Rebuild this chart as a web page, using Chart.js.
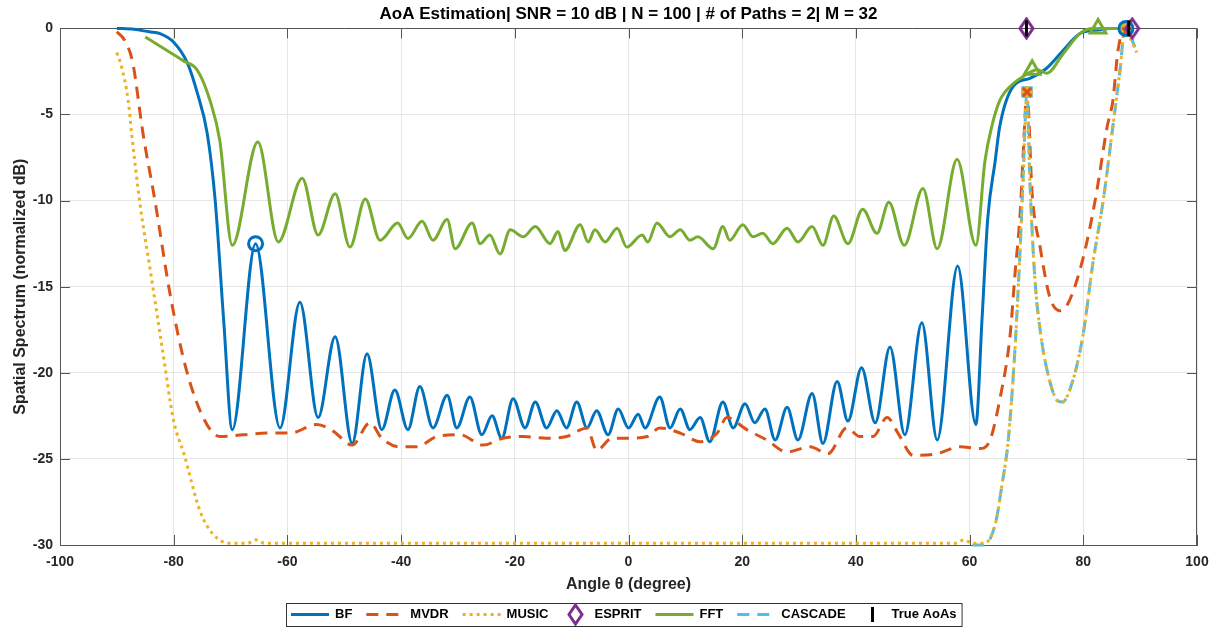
<!DOCTYPE html>
<html>
<head>
<meta charset="utf-8">
<title>AoA Estimation</title>
<script src="https://cdn.jsdelivr.net/npm/chart.js@4.4.1/dist/chart.umd.min.js"></script>
<style>
  html, body { margin: 0; padding: 0; background: #fff; }
  #wrap { width: 1218px; height: 628px; }
</style>
</head>
<body>
<div id="wrap"><canvas id="aoa-spectrum" width="1218" height="628"></canvas></div>
<script>

// angle (deg) / normalized spatial spectrum (dB) for each estimator
var bfAngle = [-90, -87, -84.3, -82.4, -80, -77.6, -75.8, -74.1, -72.7, -71.2, -69.7, -65.6, -61.3, -57.8, -54.6, -51.6, -48.6, -46, -43.4, -41.1,
	-38.8, -36.7, -34.4, -31.9, -30.2, -27.9, -25.8, -24, -22.3, -20.3, -18.2, -16.4, -14.4, -12.6, -10.9, -9.1, -7.3, -5.6, -3.6, -1.8,
	0, 1.7, 2.9, 5.5, 7.3, 9.1, 10.8, 12.6, 14.3, 16.6, 18.4, 20.5, 22.2, 24, 25.8, 27.9, 29.8, 32.3, 34.2, 36.7,
	38.6, 41, 43.4, 46, 48.6, 51.6, 54.3, 57.9, 61.1, 62.2, 63.2, 64.5, 65.3, 67.6, 70.6, 73.6, 76.4, 79.4, 82.4, 85, 87.5];
var bfDb = [0, -0.05, -0.2, -0.3, -0.8, -2.0, -3.8, -6.1, -10, -17, -23.3, -12.5, -23.2, -15.9, -22.6, -17.9, -24.1, -18.9, -23.3, -21.0,
	-23.3, -20.8, -23.2, -21.3, -23.2, -21.4, -23.6, -22.5, -23.8, -21.5, -23.2, -21.7, -23.2, -22.2, -23.2, -21.7, -23.2, -22.2, -23.6, -22.1,
	-23.2, -22.4, -23.2, -21.4, -23.2, -22.1, -23.3, -22.6, -24.0, -21.7, -23.2, -21.8, -22.9, -22.1, -23.9, -22.0, -23.9, -21.2, -24.1, -20.5,
	-22.8, -19.7, -22.9, -18.5, -23.6, -17.1, -23.9, -13.8, -23.0, -16.8, -11.0, -7.7, -5.7, -3.4, -2.9, -2.3, -1.3, -0.3, -0.1, 0, 0];

var mvdrAngle = [-90, -88.6, -87.2, -85.4, -83.3, -80.6, -77.8, -74.5, -71.9, -67.8, -63.6, -59.5, -54.8, -51.9, -48.6, -45.5, -43.4, -40.2, -37.2, -33.7,
	-29.6, -25.6, -22.1, -18.5, -14.4, -10.9, -7.3, -5.6, -2.9, -0.3, 3.3, 5.5, 9.1, 12.6, 15.6, 17.3, 20.8, 24.3, 27.9, 31.9,
	35.1, 38.4, 40.7, 43.0, 45.5, 47.4, 50.1, 54.3, 58.3, 61.8, 63.6, 65.4, 67.1, 68.0, 68.9, 69.4, 70.1, 71.0, 72.4, 74.1,
	75.9, 77.1, 78.9, 80.7, 82.4, 84.2, 85.2, 86.1, 87.3, 88.2];
var mvdrDb = [-0.2, -0.7, -2.0, -6.1, -10.0, -15.5, -19.8, -22.8, -23.7, -23.6, -23.5, -23.5, -23.0, -23.4, -24.2, -22.9, -23.8, -24.3, -24.3, -23.7,
	-23.6, -24.2, -23.8, -23.7, -23.8, -23.7, -23.2, -24.5, -23.8, -23.8, -23.7, -23.2, -23.5, -24.0, -23.5, -22.6, -23.3, -23.9, -24.6, -24.3,
	-24.7, -23.2, -23.7, -23.7, -22.6, -23.5, -24.8, -24.7, -24.3, -24.4, -23.9, -21.4, -17.9, -14.2, -10.7, -7.5, -3.7, -9.6, -12.7, -15.6,
	-16.4, -16.1, -14.6, -12.3, -9.4, -5.7, -4.2, -1.3, 0, -0.3];

var musicAngle = [-90, -89.2, -88, -87.4, -86, -84, -82, -80, -78.2, -75.4, -73, -70, -67, -65.6, -64, -55, -40, -20, 0, 20,
	40, 55, 57.5, 59, 60.5, 62.5, 64.5, 65.7, 66.8, 68, 68.9, 69.4, 70.1, 70.6, 71.5, 72.4, 73.6, 75.4, 76.3, 78.2,
	80, 81.7, 83.5, 85.2, 86.5, 87.3, 88.3, 89.4];
var musicDb = [-1.4, -2.2, -4.2, -6.1, -10, -14.3, -18.6, -22.8, -24.7, -28, -29.4, -29.9, -29.9, -29.7, -29.9, -29.9, -29.9, -29.9, -29.9, -29.9,
	-29.9, -29.9, -29.9, -29.7, -29.9, -29.9, -28.8, -26.5, -23.9, -18.5, -12.7, -8.8, -3.7, -8.8, -14.6, -17.5, -19.8, -21.6, -21.7, -20.4,
	-17.7, -13.6, -10, -5.7, -2.3, 0, -0.6, -1.4];

var fftAngle = [-85, -78.2, -75.9, -73.6, -71.9, -69.7, -65.2, -61.6, -57.4, -54.6, -51.6, -49, -46.3, -43.7, -40.6, -38.8, -36.3, -34.4, -31.9, -30.5,
	-27.5, -26.1, -24.4, -22.6, -20.8, -18.5, -16.4, -13.8, -12.4, -11.2, -8.5, -7.1, -5.9, -4.1, -2, -0.3, 2.4, 3.4, 5, 7.3,
	9.1, 10.8, 12.2, 14.9, 16.6, 17.8, 20.1, 21.9, 23.6, 25.4, 27.9, 29.8, 32.3, 34.2, 36.1, 38.6, 41.2, 43.7, 45.8, 48.5,
	51.8, 54.3, 57.8, 61.1, 62.7, 63.9, 65.3, 67.7, 69.4, 71.9, 73.6, 76.4, 79.4, 81.7, 84.5, 88];
var fftDb = [-0.5, -1.9, -2.4, -4.2, -6.5, -12.6, -6.6, -12.4, -8.7, -12.0, -9.6, -12.7, -9.9, -12.3, -11.3, -12.2, -11.2, -12.3, -11.1, -12.8,
	-11.3, -12.5, -12.0, -13.1, -11.7, -12.1, -11.5, -12.5, -11.8, -12.9, -11.4, -12.4, -11.7, -12.4, -11.6, -12.7, -12.0, -12.4, -11.3, -12.1,
	-11.7, -12.3, -12.1, -12.8, -11.5, -12.3, -11.4, -12.1, -11.9, -12.5, -11.6, -12.4, -11.5, -12.6, -10.9, -12.5, -10.5, -11.9, -10.1, -12.6,
	-9.3, -12.8, -7.6, -12.6, -7.7, -5.7, -4.2, -3.2, -2.8, -2.4, -2.6, -1.5, -0.3, 0, 0, 0];

var cascadeAngle = [60.5, 62.5, 64.5, 65.7, 66.8, 68, 68.9, 69.4, 70.1, 70.6, 71.5, 72.4, 73.6, 75.4, 76.3, 78.2, 80, 81.7, 83.5, 85.2,
	86.5, 87.3, 88.2, 89.1];
var cascadeDb = [-30, -30, -28.8, -26.5, -23.9, -18.5, -12.7, -8.8, -3.7, -8.8, -14.6, -17.5, -19.8, -21.6, -21.7, -20.4, -17.7, -13.6, -10, -5.7,
	-2.3, 0, -0.4, -1.1];

// estimated / true AoAs
var espritAngle = [70, 88.6];
var espritDb = [0, 0];
var trueAngle = [70, 88];
var trueDb = [0, 0];

// detected peaks drawn as markers
var bfPeakAngle = [-65.6, 87.5];
var bfPeakDb = [-12.5, 0];
var mvdrPeakAngle = [70.1, 87.6];
var mvdrPeakDb = [-3.7, -0.2];
var musicPeakAngle = [70.1, 87.3];
var musicPeakDb = [-3.7, 0];
var fftPeakAngle = [71, 82.6];
var fftPeakDb = [-2.4, 0];
var cascadePeakAngle = [70.1, 87.3];
var cascadePeakDb = [-3.7, 0];

var xTicks = [-100, -80, -60, -40, -20, 0, 20, 40, 60, 80, 100];
var yTicks = [-30, -25, -20, -15, -10, -5, 0];

/* matlab 기본 색상 */
var blue = '#0072BD';
var orange = '#D95319';
var yellow = '#EDB120';
var purple = '#7E2F8E';
var green = '#77AC30';
var cyan = '#4DBEEE';

var fontFamily = "'Liberation Sans', Arial, Helvetica, sans-serif";

function toPoints(xs, ys) {
	return xs.map(function(x, i) { return {x: x, y: ys[i]}; });
}

// ESPRIT marker: diamond a bit taller than wide
function diamondMarker(w, h, color) {
	var c = document.createElement('canvas');
	c.width = w + 4;
	c.height = h + 4;
	var g = c.getContext('2d');
	g.strokeStyle = color;
	g.lineWidth = 3;
	g.beginPath();
	g.moveTo(c.width / 2, 2);
	g.lineTo(c.width - 2, c.height / 2);
	g.lineTo(c.width / 2, c.height - 2);
	g.lineTo(2, c.height / 2);
	g.closePath();
	g.stroke();
	return c;
}

var diamond = diamondMarker(13, 19, purple);

// legend entries, in plot order
var legendSpec = [
	{text: 'BF', color: blue, dash: [], kind: 'line'},
	{text: 'MVDR', color: orange, dash: [12, 8], kind: 'line'},
	{text: 'MUSIC', color: yellow, dash: [3, 4], kind: 'line'},
	{text: 'ESPRIT', color: purple, dash: [], kind: 'diamond'},
	{text: 'FFT', color: green, dash: [], kind: 'line'},
	{text: 'CASCADE', color: cyan, dash: [12, 8], kind: 'line'},
	{text: 'True AoAs', color: '#000', dash: [], kind: 'bar'}
];

function lineSet(label, xs, ys, color, dash, order) {
	return {
		label: label,
		data: toPoints(xs, ys),
		borderColor: color,
		backgroundColor: color,
		borderWidth: 3,
		borderDash: dash,
		borderCapStyle: 'butt',
		cubicInterpolationMode: 'monotone',
		pointRadius: 0,
		fill: false,
		clip: 3,
		order: order
	};
}

function markerSet(label, xs, ys, style, color, radius, order) {
	return {
		label: label,
		data: toPoints(xs, ys),
		showLine: false,
		pointStyle: style,
		pointRadius: radius,
		pointBorderWidth: 3,
		pointBorderColor: color,
		pointBackgroundColor: 'rgba(255,255,255,0)',
		clip: false,
		order: order
	};
}

var trueSet = markerSet('True AoAs', trueAngle, trueDb, 'line', '#000', 8, 1);
trueSet.pointRotation = 90;

// axes box, inward ticks on all sides, title over the plot area, boxed legend
var axesBox = {
	id: 'axesBox',
	afterLayout: function(chart) {
		var a = chart.chartArea;
		chart.titleBlock.left = a.left;
		chart.titleBlock.right = a.right;
	},
	beforeDatasetsDraw: function(chart) {
		var ctx = chart.ctx;
		var a = chart.chartArea;
		var xs = chart.scales.x, ys = chart.scales.y;
		ctx.save();
		ctx.strokeStyle = '#555';
		ctx.lineWidth = 1;
		ctx.beginPath();
		ctx.moveTo(a.left, Math.round(a.top) + 0.5);
		ctx.lineTo(a.right, Math.round(a.top) + 0.5);
		ctx.moveTo(Math.round(a.right) - 0.5, a.top);
		ctx.lineTo(Math.round(a.right) - 0.5, a.bottom);
		xs.ticks.forEach(function(t) {
			var px = Math.round(xs.getPixelForValue(t.value)) + 0.5;
			ctx.moveTo(px, a.bottom);
			ctx.lineTo(px, a.bottom - 10);
			ctx.moveTo(px, a.top);
			ctx.lineTo(px, a.top + 10);
		});
		ys.ticks.forEach(function(t) {
			var py = Math.round(ys.getPixelForValue(t.value)) + 0.5;
			ctx.moveTo(a.left, py);
			ctx.lineTo(a.left + 10, py);
			ctx.moveTo(a.right, py);
			ctx.lineTo(a.right - 10, py);
		});
		ctx.stroke();
		ctx.restore();
	},
	afterDraw: function(chart) {
		var ctx = chart.ctx;
		var a = chart.chartArea;
		var lineW = 38, markW = 26, gap = 6, spacing = 14, pad = 5;
		var cy = 614.5;

		ctx.save();
		ctx.font = 'bold 13px ' + fontFamily;
		ctx.textBaseline = 'middle';
		var total = 0;
		var widths = legendSpec.map(function(s) {
			var w = (s.kind == 'line' ? lineW : markW) + gap + ctx.measureText(s.text).width;
			total += w;
			return w;
		});
		total += spacing * (legendSpec.length - 1);
		var x = Math.round((a.left + a.right) / 2 - 5 - total / 2);

		ctx.strokeStyle = '#333';
		ctx.lineWidth = 1;
		ctx.strokeRect(x - pad + 0.5, 603.5, total + 2 * pad, 23);

		legendSpec.forEach(function(s, i) {
			var sw = s.kind == 'line' ? lineW : markW;
			if (s.kind == 'line') {
				ctx.strokeStyle = s.color;
				ctx.lineWidth = 3;
				ctx.lineCap = 'butt';
				ctx.setLineDash(s.dash);
				ctx.beginPath();
				ctx.moveTo(x, cy);
				ctx.lineTo(x + sw, cy);
				ctx.stroke();
				ctx.setLineDash([]);
			} else if (s.kind == 'diamond') {
				ctx.drawImage(diamond, Math.round(x + sw / 2 - diamond.width / 2), Math.round(cy - diamond.height / 2));
			} else {
				ctx.fillStyle = s.color;
				ctx.fillRect(Math.round(x + sw / 2 - 1.5), cy - 7.5, 3, 15);
			}
			ctx.fillStyle = '#000';
			ctx.fillText(s.text, x + sw + gap, cy);
			x += widths[i] + spacing;
		});
		ctx.restore();
	}
};

Chart.defaults.font.family = fontFamily;
Chart.defaults.color = '#262626';

var spectrum = new Chart(document.getElementById('aoa-spectrum'), {
	type: 'line',
	data: {
		datasets: [
			lineSet('BF', bfAngle, bfDb, blue, [], 10),
			lineSet('MVDR', mvdrAngle, mvdrDb, orange, [12, 8], 9),
			lineSet('MUSIC', musicAngle, musicDb, yellow, [3, 4], 6),
			markerSet('ESPRIT', espritAngle, espritDb, diamond, purple, 8, 2),
			lineSet('FFT', fftAngle, fftDb, green, [], 8),
			lineSet('CASCADE', cascadeAngle, cascadeDb, cyan, [12, 8], 7),
			trueSet,
			markerSet('BF peaks', bfPeakAngle, bfPeakDb, 'circle', blue, 7, 3),
			markerSet('MVDR peaks', mvdrPeakAngle, mvdrPeakDb, 'crossRot', orange, 6, 3),
			markerSet('MUSIC peaks', musicPeakAngle, musicPeakDb, 'star', yellow, 6, 3),
			markerSet('FFT peaks', fftPeakAngle, fftPeakDb, 'triangle', green, 9, 3),
			markerSet('CASCADE peaks', cascadePeakAngle, cascadePeakDb, 'rect', cyan, 6, 4)
		]
	},
	plugins: [axesBox],
	options: {
		responsive: false,
		animation: false,
		events: [],
		layout: {
			padding: {left: 8, right: 21, top: 0, bottom: 34}
		},
		scales: {
			x: {
				type: 'linear',
				min: -100,
				max: 100,
				afterFit: function(s) { s.height = 49; },
				afterBuildTicks: function(s) {
					s.ticks = xTicks.map(function(v) { return {value: v}; });
				},
				grid: {color: '#e6e6e6', drawTicks: false},
				border: {color: '#555', width: 1},
				ticks: {padding: 9, font: {size: 14, weight: 'bold'}, color: '#262626'},
				title: {
					display: true,
					text: 'Angle θ (degree)',
					color: '#262626',
					font: {size: 16, weight: 'bold'},
					padding: {top: 0, bottom: 0}
				}
			},
			y: {
				type: 'linear',
				min: -30,
				max: 0,
				afterFit: function(s) { s.width = 52; },
				afterBuildTicks: function(s) {
					s.ticks = yTicks.map(function(v) { return {value: v}; });
				},
				grid: {color: '#e6e6e6', drawTicks: false},
				border: {color: '#555', width: 1},
				ticks: {padding: 7, font: {size: 14, weight: 'bold'}, color: '#262626'},
				title: {
					display: true,
					text: 'Spatial Spectrum (normalized dB)',
					color: '#262626',
					font: {size: 16, weight: 'bold'},
					padding: {top: 3, bottom: 0}
				}
			}
		},
		plugins: {
			title: {
				display: true,
				text: 'AoA Estimation| SNR = 10 dB | N = 100 | # of Paths = 2| M = 32',
				color: '#000',
				font: {size: 17, weight: 'bold'},
				padding: {top: 4, bottom: 4}
			},
			legend: {display: false},
			tooltip: {enabled: false}
		}
	}
});

</script>
</body>
</html>
